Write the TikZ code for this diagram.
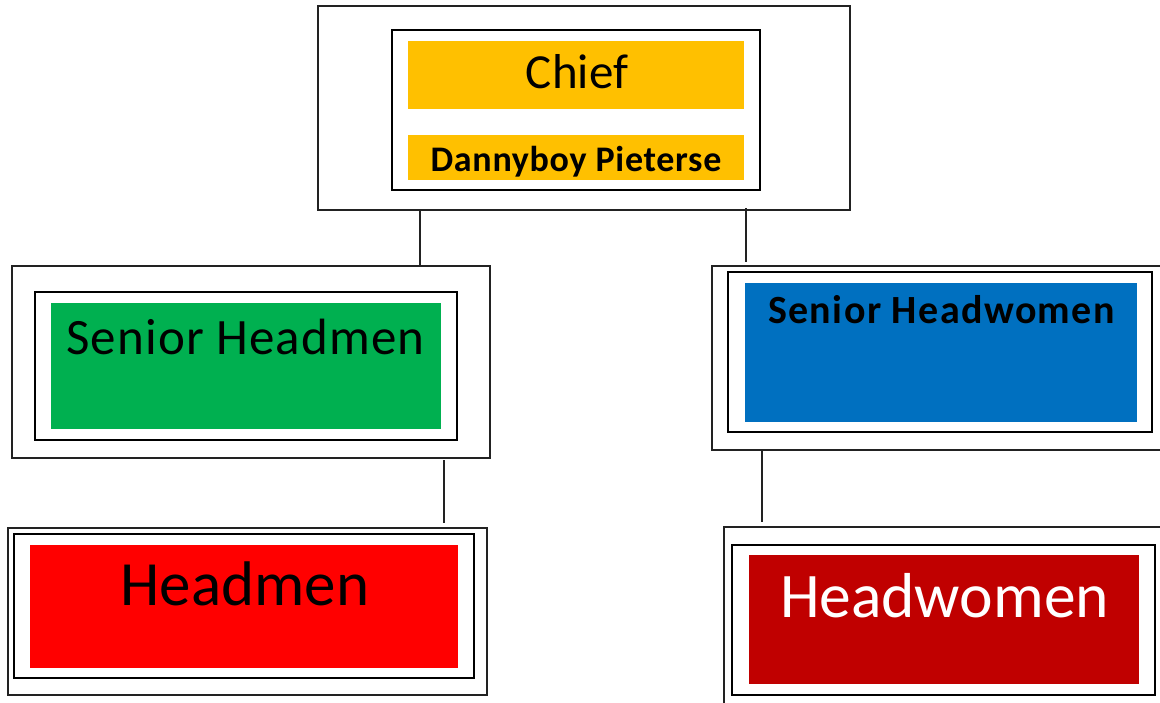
\documentclass[tikz,border=0pt]{standalone}
\usepackage{fontspec}
\setmainfont{Carlito}
\definecolor{cyellow}{HTML}{FFC000}
\definecolor{cgreen}{HTML}{00B050}
\definecolor{cblue}{HTML}{0070C0}
\definecolor{cred}{HTML}{FF0000}
\definecolor{cdarkred}{HTML}{C00000}
\definecolor{cline}{HTML}{222222}
\begin{document}
\begin{tikzpicture}[x=1pt,y=-1pt,
  outerbox/.style={draw=cline,line width=1.6pt,inner sep=0pt,outer sep=0pt,fill=white},
  innerbox/.style={draw=black,line width=2pt,inner sep=0pt,outer sep=0pt},
  colbox/.style={inner sep=0pt,outer sep=0pt},
  lbl/.style={anchor=base,inner sep=0pt},
  conn/.style={draw=cline,line width=1.6pt}]
\useasboundingbox (0,0) rectangle (1160,702);
\clip (0,0) rectangle (1160,702);
% Chief
\node[outerbox,minimum width=532pt,minimum height=204pt] (chiefout) at (584,108) {};
\node[innerbox,minimum width=368pt,minimum height=160pt] (chiefin) at (576,110) {};
\node[colbox,fill=cyellow,minimum width=336pt,minimum height=68pt] (chief) at (576,75) {};
\node[lbl,font=\fontsize{49}{60}\selectfont] (chieftxt) at (577,88) {Chief};
\node[colbox,fill=cyellow,minimum width=336pt,minimum height=45pt] (danny) at (576,157.5) {};
\node[lbl,font=\fontsize{36}{42}\selectfont\bfseries\addfontfeature{LetterSpace=2}] (dannytxt) at (576,171) {Dannyboy Pieterse};
% Senior Headmen
\node[outerbox,minimum width=478pt,minimum height=192pt] (shmout) at (251,362) {};
\node[innerbox,minimum width=422pt,minimum height=148pt] (shmin) at (246,366) {};
\node[colbox,fill=cgreen,minimum width=390pt,minimum height=126pt] (shm) at (246,366) {};
\node[lbl,font=\fontsize{51}{60}\selectfont\addfontfeature{LetterSpace=2.2}] (shmtxt) at (245.5,354) {Senior Headmen};
% Headmen
\node[outerbox,minimum width=479pt,minimum height=167pt] (hmout) at (247.5,611.5) {};
\node[innerbox,minimum width=460pt,minimum height=144pt] (hmin) at (244,606) {};
\node[colbox,fill=cred,minimum width=428pt,minimum height=123pt] (hm) at (244,606.5) {};
\node[lbl,font=\fontsize{63}{72}\selectfont] (hmtxt) at (245,605) {Headmen};
% Senior Headwomen
\node[outerbox,minimum width=450pt,minimum height=184pt] (shwout) at (937,358) {};
\node[innerbox,minimum width=424pt,minimum height=160pt] (shwin) at (940,352) {};
\node[colbox,fill=cblue,minimum width=392pt,minimum height=139pt] (shw) at (941,352.5) {};
\node[lbl,font=\fontsize{40}{48}\selectfont\bfseries\addfontfeature{LetterSpace=3.6}] (shwtxt) at (941.5,323) {Senior Headwomen};
% Headwomen
\node[outerbox,minimum width=437pt,minimum height=178pt] (hwout) at (942.5,616) {};
\node[innerbox,minimum width=423pt,minimum height=150pt] (hwin) at (943.5,620) {};
\node[colbox,fill=cdarkred,minimum width=390pt,minimum height=129pt] (hw) at (944,619.5) {};
\node[lbl,text=white,font=\fontsize{63.5}{74}\selectfont] (hwtxt) at (944.5,617) {Headwomen};
% connectors
\coordinate (c1) at (420,0);
\coordinate (c2) at (746,0);
\coordinate (c3) at (444,0);
\coordinate (c4) at (762,0);
\draw[conn] (chiefout.south -| c1) -- (shmout.north -| c1);
\draw[conn] ([yshift=2pt]chiefout.south -| c2) -- ([yshift=4pt]shwout.north -| c2);
\draw[conn] ([yshift=-2pt]shmout.south -| c3) -- ([yshift=5pt]hmout.north -| c3);
\draw[conn] (shwout.south -| c4) -- ([yshift=5pt]hwout.north -| c4);
\end{tikzpicture}
\end{document}
